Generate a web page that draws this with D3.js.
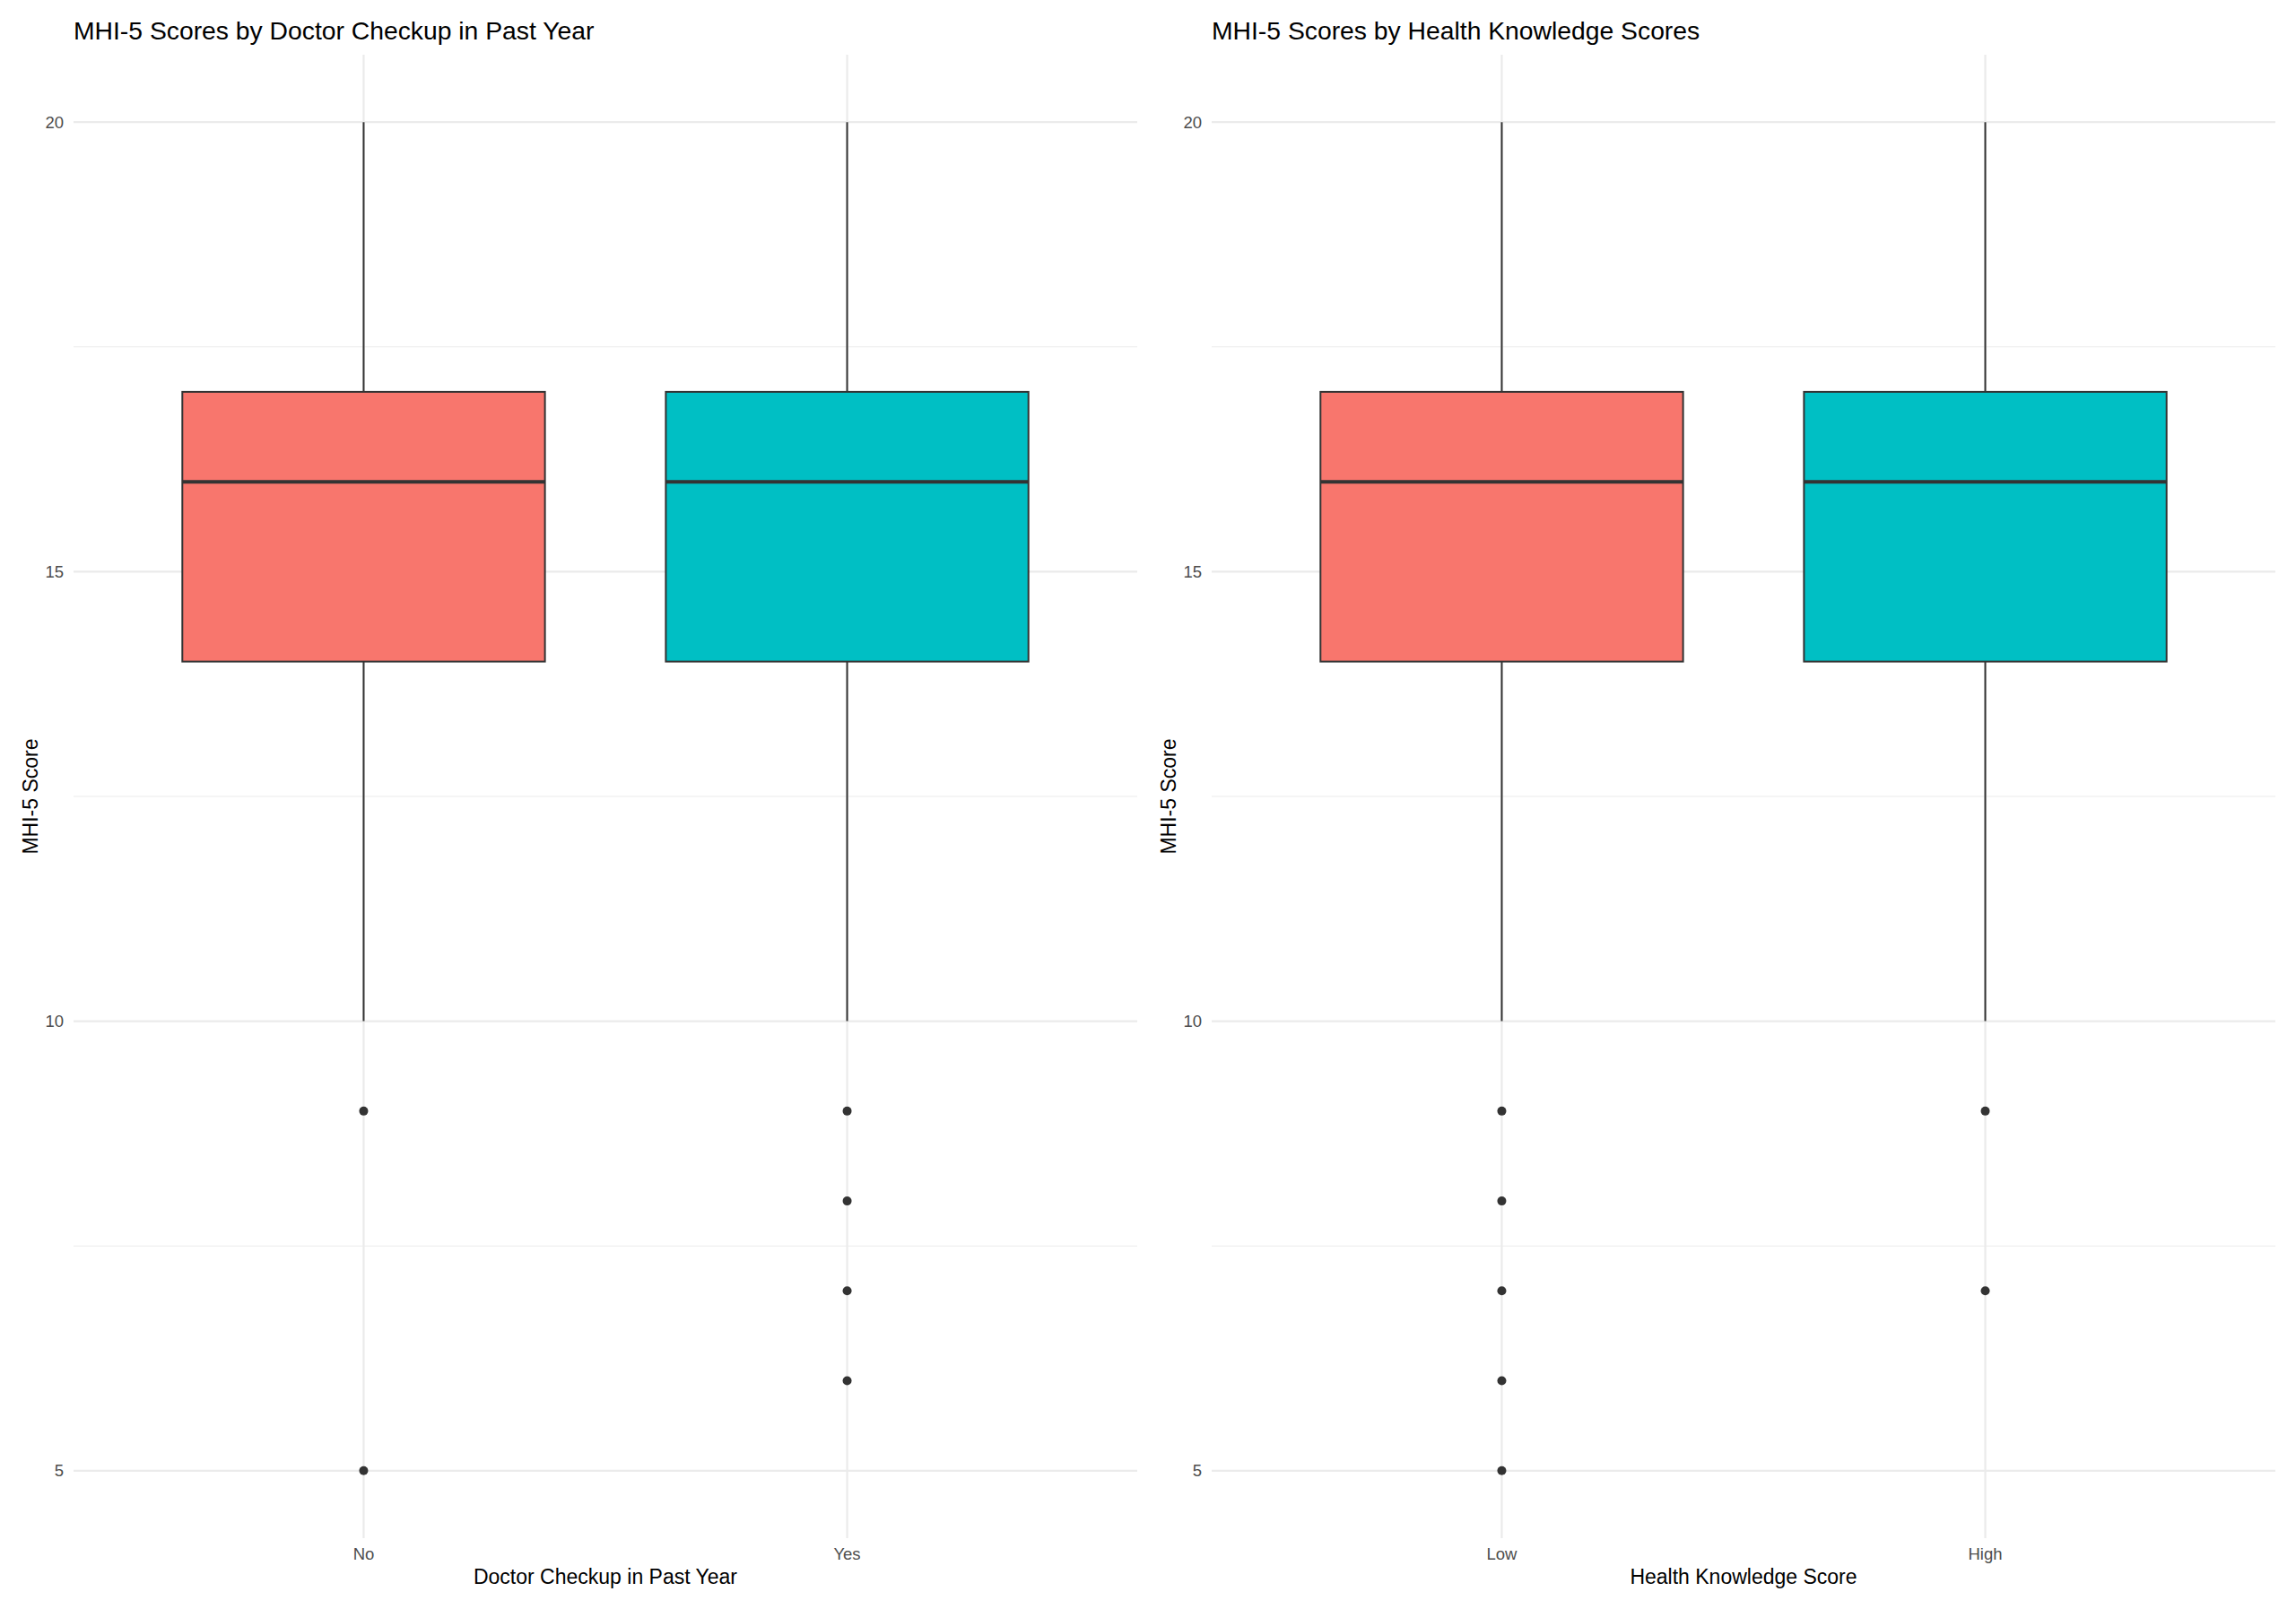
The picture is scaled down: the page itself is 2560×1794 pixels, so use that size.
<!DOCTYPE html>
<html>
<head>
<meta charset="utf-8">
<script src="https://cdn.jsdelivr.net/npm/d3@7"></script>
<style>
  html, body { margin: 0; padding: 0; background: #ffffff; }
  svg { display: block; }
  text { font-family: "Liberation Sans", Arial, Helvetica, sans-serif; }
</style>
</head>
<body>
<svg id="chart" width="2560" height="1794"></svg>
<script>
// ---- Data ----
const panelTitles = ["MHI-5 Scores by Doctor Checkup in Past Year", "MHI-5 Scores by Health Knowledge Scores"];
const xAxisTitles = ["Doctor Checkup in Past Year", "Health Knowledge Score"];
const yAxisTitle = "MHI-5 Score";

const checkupCategories = ["No", "Yes"];
const knowledgeCategories = ["Low", "High"];

// [lower whisker, Q1, median, Q3, upper whisker]
const checkupStats = [[10, 14, 16, 17, 20], [10, 14, 16, 17, 20]];
const knowledgeStats = [[10, 14, 16, 17, 20], [10, 14, 16, 17, 20]];

const checkupOutliers = [[9, 5], [9, 8, 7, 6]];
const knowledgeOutliers = [[9, 8, 7, 6, 5], [9, 7]];

const yMajorTicks = [5, 10, 15, 20];
const yMinorTicks = [7.5, 12.5, 17.5];
const fillColors = ["#F8766D", "#00BFC4"];

// ---- Layout ----
const svg = d3.select("#chart");
const panelTop = 61, panelBottom = 1715;
const panels = [
  { left: 82, right: 1268, cats: checkupCategories, stats: checkupStats, outliers: checkupOutliers, title: panelTitles[0], xTitle: xAxisTitles[0] },
  { left: 1351, right: 2537, cats: knowledgeCategories, stats: knowledgeStats, outliers: knowledgeOutliers, title: panelTitles[1], xTitle: xAxisTitles[1] }
];

const y = d3.scaleLinear().domain([4.25, 20.75]).range([panelBottom, panelTop]);
const gridColor = "#EBEBEB";
const ink = "#333333";

panels.forEach(p => {
  const g = svg.append("g");
  const x = d3.scalePoint().domain(p.cats).range([p.left, p.right]).padding(0.6);
  const boxW = x.step() * 0.75;

  // minor grid
  g.selectAll(".minor").data(yMinorTicks).enter().append("line")
    .attr("x1", p.left).attr("x2", p.right)
    .attr("y1", d => y(d)).attr("y2", d => y(d))
    .attr("stroke", gridColor).attr("stroke-width", 1.1);
  // major grid
  g.selectAll(".major").data(yMajorTicks).enter().append("line")
    .attr("x1", p.left).attr("x2", p.right)
    .attr("y1", d => y(d)).attr("y2", d => y(d))
    .attr("stroke", gridColor).attr("stroke-width", 2.2);
  g.selectAll(".vgrid").data(p.cats).enter().append("line")
    .attr("x1", d => x(d)).attr("x2", d => x(d))
    .attr("y1", panelTop).attr("y2", panelBottom)
    .attr("stroke", gridColor).attr("stroke-width", 2.2);

  // y tick labels
  g.selectAll(".ytick").data(yMajorTicks).enter().append("text")
    .attr("x", p.left - 11).attr("y", d => y(d))
    .attr("dy", "0.35em")
    .attr("text-anchor", "end")
    .attr("font-size", 18.5).attr("fill", "#4D4D4D")
    .text(d => d);

  // x tick labels
  g.selectAll(".xtick").data(p.cats).enter().append("text")
    .attr("x", d => x(d)).attr("y", 1739)
    .attr("text-anchor", "middle")
    .attr("font-size", 18.5).attr("fill", "#4D4D4D")
    .text(d => d);

  // boxes
  p.cats.forEach((c, i) => {
    const s = p.stats[i];
    const cx = x(c);
    // whiskers
    g.append("line").attr("x1", cx).attr("x2", cx).attr("y1", y(s[4])).attr("y2", y(s[3]))
      .attr("stroke", ink).attr("stroke-width", 2);
    g.append("line").attr("x1", cx).attr("x2", cx).attr("y1", y(s[1])).attr("y2", y(s[0]))
      .attr("stroke", ink).attr("stroke-width", 2);
    // box
    g.append("rect").attr("x", cx - boxW / 2).attr("width", boxW)
      .attr("y", y(s[3])).attr("height", y(s[1]) - y(s[3]))
      .attr("fill", fillColors[i]).attr("stroke", ink).attr("stroke-width", 2);
    // median
    g.append("line").attr("x1", cx - boxW / 2).attr("x2", cx + boxW / 2)
      .attr("y1", y(s[2])).attr("y2", y(s[2]))
      .attr("stroke", ink).attr("stroke-width", 4);
    // outliers
    g.selectAll(null).data(p.outliers[i]).enter().append("circle")
      .attr("cx", cx).attr("cy", d => y(d)).attr("r", 5)
      .attr("fill", ink);
  });

  // titles
  g.append("text").attr("x", p.left).attr("y", 44)
    .attr("font-size", 28.3).attr("fill", "#000").text(p.title);
  g.append("text").attr("x", (p.left + p.right) / 2).attr("y", 1766)
    .attr("text-anchor", "middle").attr("font-size", 23).attr("fill", "#000").text(p.xTitle);
  g.append("text")
    .attr("transform", `translate(${p.left - 40},${(panelTop + panelBottom) / 2}) rotate(-90)`)
    .attr("text-anchor", "middle").attr("font-size", 23).attr("fill", "#000").text(yAxisTitle);
});
</script>
</body>
</html>
